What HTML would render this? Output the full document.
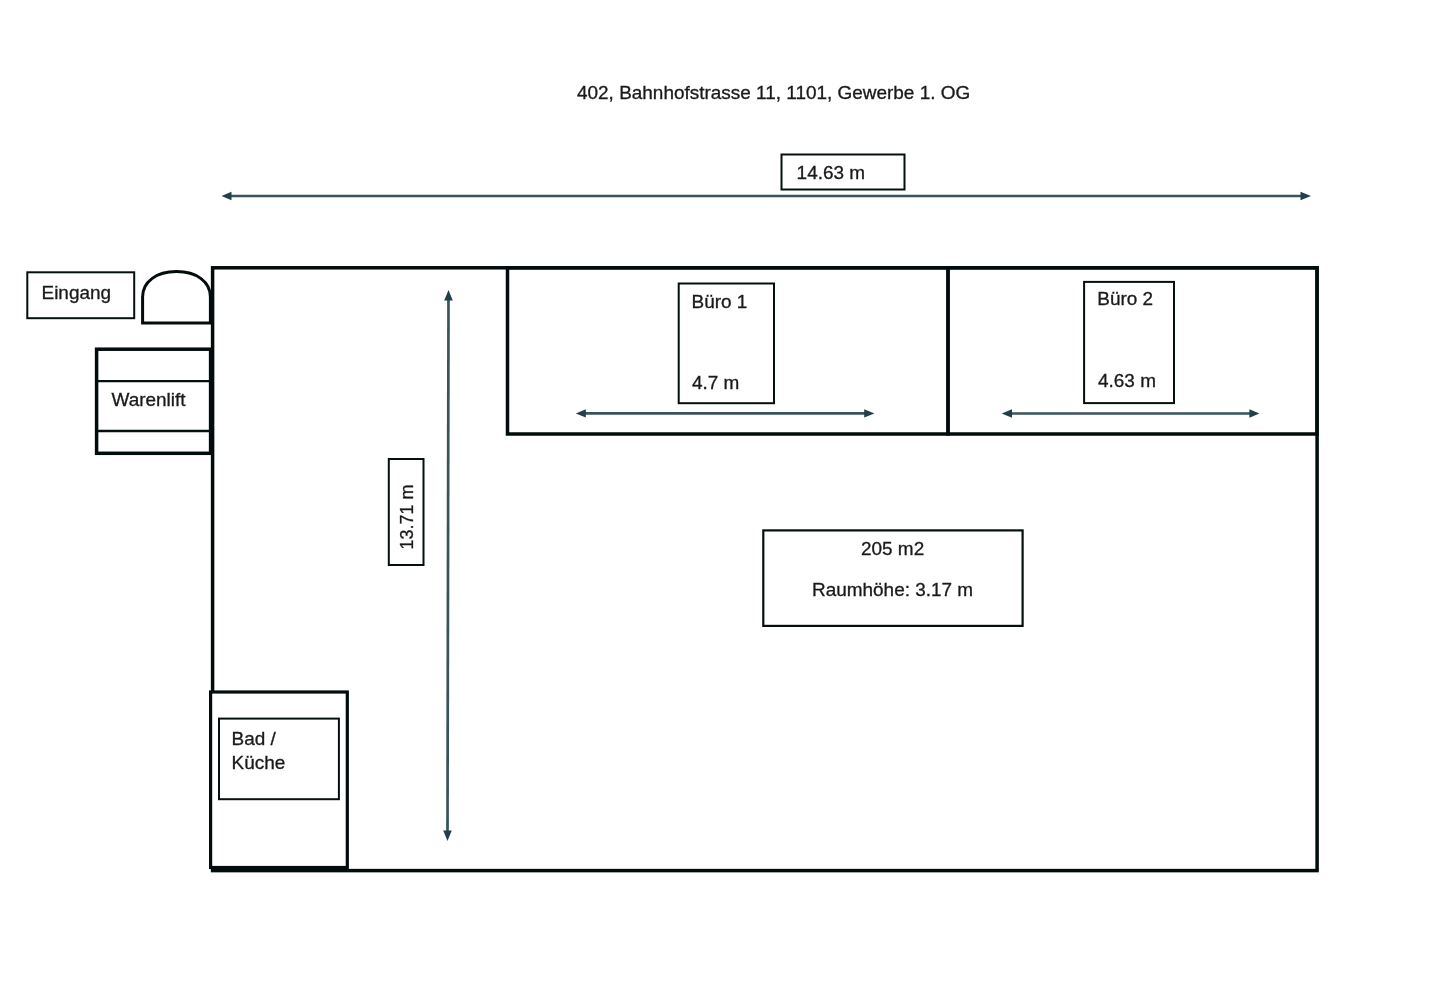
<!DOCTYPE html>
<html>
<head>
<meta charset="utf-8">
<style>
html,body{margin:0;padding:0;background:#fff;width:1440px;height:988px;overflow:hidden}
svg{display:block;will-change:transform}
text{font-family:"Liberation Sans",sans-serif;font-size:17.5px;fill:#1a1a1a;stroke:#1a1a1a;stroke-width:0.3px}
</style>
</head>
<body>
<div id="wrap"><svg width="1440" height="988" viewBox="0 0 1440 988">
<rect x="0" y="0" width="1440" height="988" fill="#fff"/>

<!-- title -->
<text transform="translate(577,98.7) scale(1.083,1)">402, Bahnhofstrasse 11, 1101, Gewerbe 1. OG</text>

<!-- top dimension -->
<rect x="781.5" y="154.5" width="123" height="35" fill="#fff" stroke="#050f0f" stroke-width="2"/>
<text transform="translate(796.6,178.5) scale(1.083,1)">14.63 m</text>

<g stroke="#38545a" stroke-width="2.7" fill="none">
  <line x1="230" y1="196" x2="1302" y2="196"/>
  <line x1="585" y1="413.4" x2="865" y2="413.4"/>
  <line x1="1011" y1="413.5" x2="1250" y2="413.5"/>
  <line x1="448.5" y1="299" x2="447.5" y2="831"/>
</g>
<g fill="#21404a">
  <polygon points="221.5,196 231.5,191.8 231.5,200.2"/>
  <polygon points="1311,196 1300.5,191.8 1300.5,200.2"/>
  <polygon points="575.8,413.4 585.8,409.2 585.8,417.6"/>
  <polygon points="874.4,413.4 864.2,409.2 864.2,417.6"/>
  <polygon points="1001.7,413.5 1012,409.3 1012,417.7"/>
  <polygon points="1259.4,413.5 1249.4,409.3 1249.4,417.7"/>
  <polygon points="448.5,290 444.2,300.5 452.8,300.5"/>
  <polygon points="447.5,841 443.2,830.5 451.8,830.5"/>
</g>

<!-- main walls -->
<g stroke="#020c0c" stroke-width="3.5" fill="none">
  <rect x="212.6" y="267.8" width="1104.5" height="602.8"/>
  <rect x="507.5" y="267.8" width="440.5" height="166.2"/>
  <rect x="948" y="267.8" width="369" height="166.2"/>
</g>

<!-- Büro labels -->
<g stroke="#050f0f" stroke-width="2" fill="none">
  <rect x="678.7" y="283.5" width="95.3" height="119.7"/>
  <rect x="1084.1" y="281.9" width="89.9" height="121.2"/>
</g>
<text transform="translate(691.5,308) scale(1.083,1)">Büro 1</text>
<text transform="translate(692,388.7) scale(1.083,1)">4.7 m</text>
<text transform="translate(1097.3,305.3) scale(1.083,1)">Büro 2</text>
<text transform="translate(1098,386.7) scale(1.083,1)">4.63 m</text>

<!-- 13.71 -->
<rect x="388.8" y="459" width="34.7" height="106" fill="#fff" stroke="#050f0f" stroke-width="2"/>
<text transform="translate(412.9,549.5) rotate(-90) scale(1.027,1)">13.71 m</text>

<!-- area box -->
<rect x="763.3" y="530.4" width="259.3" height="95.5" fill="#fff" stroke="#050f0f" stroke-width="2.2"/>
<text transform="translate(861,554.9) scale(1.083,1)">205 m2</text>
<text transform="translate(812,595.9) scale(1.083,1)">Raumhöhe: 3.17 m</text>

<!-- Bad / Küche -->
<rect x="210.6" y="692" width="136.7" height="175.5" fill="#fff" stroke="#020c0c" stroke-width="3.2"/>
<rect x="219" y="718.6" width="119.9" height="80.6" fill="#fff" stroke="#050f0f" stroke-width="2"/>
<text transform="translate(231.5,745.1) scale(1.083,1)">Bad /</text>
<text transform="translate(231.5,768.5) scale(1.083,1)">Küche</text>

<!-- Eingang -->
<rect x="27.3" y="272.3" width="106.9" height="45.9" fill="#fff" stroke="#050f0f" stroke-width="2"/>
<text transform="translate(41.5,298.7) scale(1.083,1)">Eingang</text>

<!-- door -->
<path d="M142.6,323 L142.6,297 C142.6,281.8 156.2,271.6 176.5,271.6 C196.8,271.6 210.4,281.8 210.4,297 L210.4,323 Z" fill="#fff" stroke="#020c0c" stroke-width="3"/>

<!-- Warenlift -->
<rect x="96.6" y="349.2" width="114" height="104.1" fill="#fff" stroke="#020c0c" stroke-width="3.5"/>
<g stroke="#050f0f" stroke-width="2.3">
  <line x1="97" y1="381.1" x2="211" y2="381.1"/>
  <line x1="97" y1="431" x2="211" y2="431"/>
</g>
<text transform="translate(111.5,405.5) scale(1.083,1)">Warenlift</text>
</svg></div>
</body>
</html>
